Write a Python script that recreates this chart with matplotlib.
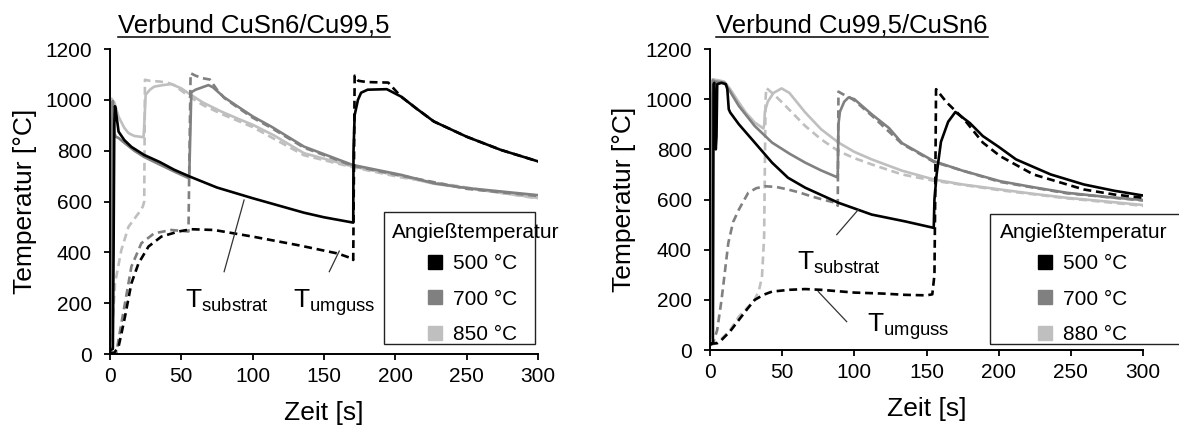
import matplotlib
matplotlib.use("Agg")
import matplotlib.pyplot as plt
from matplotlib.lines import Line2D
from matplotlib.patches import Rectangle

plt.rcParams['font.family'] = ['Liberation Sans', 'DejaVu Sans']

# ---- data, left panel: Verbund CuSn6/Cu99,5 ----
l_sub500_t = [0, 2, 2.5, 3, 3.5, 4, 6, 10, 15, 24, 35, 45, 56, 75, 100, 136, 150, 170.5, 170.7, 171.5, 173.8, 176, 180.6, 194, 204, 215, 227, 250, 274, 300]
l_sub500_T = [15, 20, 400, 900, 975, 960, 875, 842, 815, 783, 755, 725, 698, 655, 613, 556, 538, 517, 800, 940, 1000, 1028, 1040, 1042, 1013, 965, 915, 855, 803, 758]
l_umg500_t = [0, 3, 6, 8, 10.5, 13, 15, 20, 27, 36, 48, 57, 73, 100, 133, 160, 170, 170.5, 171.5, 174, 180, 195, 204, 215, 227, 250, 274, 300]
l_umg500_T = [5, 5, 29, 80, 147, 220, 278, 357, 423, 462, 482, 491, 488, 462, 427, 395, 375, 370, 1095, 1075, 1070, 1068, 1013, 965, 915, 855, 803, 758]

l_sub700_t = [0, 1, 1.5, 2, 3, 4, 6, 10.5, 17, 24, 35, 45, 55.5, 56, 57, 60, 65, 69, 72, 80, 89.5, 100, 113, 136, 170, 204, 227, 250, 300]
l_sub700_T = [0, 300, 900, 995, 870, 855, 850, 829, 800, 775, 745, 718, 691, 800, 1030, 1040, 1050, 1058, 1050, 1010, 974, 935, 895, 816, 744, 705, 672, 653, 625]
l_umg700_t = [0, 4.5, 7, 10.5, 15, 22, 31, 43, 55, 55.5, 56.5, 60, 65, 70, 75, 80, 89.5, 100, 113, 136, 170, 204, 250, 300]
l_umg700_T = [0, 5, 90, 200, 344, 436, 475, 488, 482, 700, 1105, 1095, 1085, 1080, 1040, 1008, 970, 930, 890, 812, 741, 702, 650, 622]

l_sub850_t = [0, 0.5, 1, 3, 6, 10, 13, 17, 23.5, 24, 25, 28, 31, 37, 43, 50, 55, 65, 78, 90, 100, 115, 136, 170, 204, 227, 260, 300]
l_sub850_T = [150, 700, 1005, 990, 934, 890, 869, 858, 853, 900, 1020, 1040, 1052, 1058, 1062, 1045, 1026, 990, 954, 925, 902, 860, 790, 738, 700, 670, 645, 614]
l_umg850_t = [0, 0.7, 3.5, 8, 13, 20, 23, 24, 24.5, 28, 35, 40, 45, 55, 65, 78, 100, 136, 170, 204, 300]
l_umg850_T = [0, 10, 278, 410, 501, 554, 580, 600, 1079, 1075, 1072, 1068, 1058, 1015, 980, 945, 893, 782, 735, 695, 612]

# ---- data, right panel: Verbund Cu99,5/CuSn6 ----
r_sub500_t = [0, 2, 2.5, 3, 4, 4.5, 5, 8, 11, 12, 13, 14, 20, 31, 43, 54, 66, 89, 112, 135, 155, 155.5, 157, 160, 165, 170, 180, 189, 200, 212, 236, 259, 280, 300]
r_sub500_T = [20, 30, 1060, 1065, 800, 850, 1060, 1065, 1060, 1040, 960, 947, 900, 827, 747, 687, 647, 587, 540, 513, 487, 600, 700, 830, 910, 949, 905, 853, 810, 760, 700, 660, 635, 616]
r_umg500_t = [0, 5, 8, 14, 20, 26, 31, 37, 43, 55, 66, 77, 100, 120, 135, 150, 154, 155.5, 156, 156.6, 164, 176, 189, 201, 224, 259, 280, 300]
r_umg500_T = [25, 27, 40, 75, 120, 165, 200, 220, 233, 240, 243, 240, 229, 225, 220, 218, 222, 300, 600, 1040, 987, 920, 827, 773, 700, 640, 620, 607]

r_sub700_t = [0, 1, 2, 4, 8, 10, 14, 20, 31, 43, 55, 66, 77, 88, 88.5, 89, 90, 93, 96, 100, 112, 124, 133, 155, 175, 201, 225, 247, 275, 300]
r_sub700_T = [50, 900, 1075, 1070, 1068, 1065, 1030, 973, 893, 827, 783, 747, 716, 689, 700, 900, 950, 990, 1007, 1000, 940, 885, 825, 753, 715, 673, 648, 627, 610, 598]
r_umg700_t = [0, 2, 5, 8, 12.7, 16, 20, 26.5, 32, 38, 46, 54, 62, 70, 78, 87, 88.5, 89, 92, 96, 100, 112, 133, 155, 201, 247, 300]
r_umg700_T = [20, 25, 80, 200, 427, 510, 560, 627, 645, 653, 650, 640, 628, 613, 600, 587, 575, 1030, 1020, 1010, 995, 935, 822, 750, 670, 625, 596]

r_sub880_t = [0, 1, 2, 3, 6, 10, 14, 20, 25, 31, 37, 37.6, 38, 40, 44, 49.6, 55, 66, 77, 89, 100, 112, 133, 155, 175, 201, 225, 247, 275, 300]
r_sub880_T = [950, 1060, 1080, 1078, 1075, 1070, 1040, 987, 945, 907, 883, 900, 950, 990, 1025, 1043, 1025, 947, 880, 827, 790, 760, 715, 680, 660, 640, 622, 607, 592, 578]
r_umg880_t = [0, 3, 8, 14, 20, 26, 31, 34, 36, 37.5, 38.5, 39, 44, 50, 66, 77, 89, 100, 112, 133, 155, 201, 247, 300]
r_umg880_T = [20, 25, 45, 80, 133, 170, 200, 240, 290, 450, 1000, 1045, 1020, 987, 893, 840, 793, 765, 740, 700, 675, 637, 605, 575]

titles = ['Verbund CuSn6/Cu99,5', 'Verbund Cu99,5/CuSn6']
legend_labels_left = ['500 °C', '700 °C', '850 °C']
legend_labels_right = ['500 °C', '700 °C', '880 °C']
colors = ['#000000', '#808080', '#bfbfbf']
x_ticks = [0, 50, 100, 150, 200, 250, 300]
y_ticks = [0, 200, 400, 600, 800, 1000, 1200]

fig = plt.figure(figsize=(11.79, 4.30), dpi=100)
axL = fig.add_axes([0.0933, 0.1767, 0.3630, 0.7093])
axR = fig.add_axes([0.6022, 0.1860, 0.3673, 0.7000])

def draw_panel(ax, curves):
    # curves: list of (t_sub, T_sub, t_umg, T_umg, color), light first so black ends on top
    for ts, Ts, tu, Tu, c in curves:
        ax.plot(tu, Tu, color=c, lw=1.9, ls=(0, (3, 1.8)))
        ax.plot(ts, Ts, color=c, lw=1.9)
    ax.set_xlim(0, 300)
    ax.set_ylim(0, 1200)
    ax.set_xticks(x_ticks)
    ax.set_yticks(y_ticks)
    for s in ['top', 'right']:
        ax.spines[s].set_visible(False)
    for s in ['left', 'bottom']:
        ax.spines[s].set_linewidth(1.4)
    ax.tick_params(axis='both', direction='out', length=4, width=1.3, labelsize=15)
    ax.tick_params(axis='y', pad=9)
    ax.tick_params(axis='x', pad=5)
    ax.set_xlabel('Zeit [s]', fontsize=19)
    ax.set_ylabel('Temperatur [°C]', fontsize=19)
    ax.xaxis.set_label_coords(0.5, -0.155)
    ax.yaxis.set_label_coords(-0.17, 0.5)
    ax.xaxis.label.set_va('top')

draw_panel(axL, [
    (l_sub850_t, l_sub850_T, l_umg850_t, l_umg850_T, colors[2]),
    (l_sub700_t, l_sub700_T, l_umg700_t, l_umg700_T, colors[1]),
    (l_sub500_t, l_sub500_T, l_umg500_t, l_umg500_T, colors[0]),
])
draw_panel(axR, [
    (r_sub880_t, r_sub880_T, r_umg880_t, r_umg880_T, colors[2]),
    (r_sub700_t, r_sub700_T, r_umg700_t, r_umg700_T, colors[1]),
    (r_sub500_t, r_sub500_T, r_umg500_t, r_umg500_T, colors[0]),
])

# annotations with leader lines
lead = dict(color='#333333', lw=0.9)
axL.plot([94, 80], [606, 324], **lead)
axL.plot([153.7, 160.7], [324, 405], **lead)
axL.text(52.5, 180, r'$\mathregular{T_{substrat}}$', fontsize=19, ha='left', va='baseline')
axL.text(128.5, 180, r'$\mathregular{T_{umguss}}$', fontsize=19, ha='left', va='baseline')
axR.plot([102.8, 87.8], [560, 460], **lead)
axR.plot([75, 94.7], [233, 113], **lead)
axR.text(60, 320, r'$\mathregular{T_{substrat}}$', fontsize=19, ha='left', va='baseline')
axR.text(108.5, 73, r'$\mathregular{T_{umguss}}$', fontsize=19, ha='left', va='baseline')

# legends: frame box, title, entries
def add_legend(ax, labels, box_x, box_y, box_w, box_h, title_x, title_y, anchor):
    ax.add_patch(Rectangle((box_x, box_y), box_w, box_h, transform=ax.transAxes,
                           fill=False, edgecolor='#222222', lw=1.0, clip_on=False))
    ax.text(title_x, title_y, 'Angießtemperatur', transform=ax.transAxes,
            fontsize=15, ha='left', va='center')
    handles = [Line2D([], [], marker='s', ls='none', markersize=9.5, color=c, markeredgecolor=c)
               for c in colors]
    ax.legend(handles, labels, loc='upper left', bbox_to_anchor=anchor, frameon=False,
              fontsize=15, borderpad=0, borderaxespad=0, handlelength=0.7,
              handletextpad=0.5, labelspacing=0.8)

add_legend(axL, legend_labels_left, 0.640, 0.033, 0.353, 0.433, 0.659, 0.40, (0.743, 0.328))
add_legend(axR, legend_labels_right, 0.647, 0.020, 0.45, 0.432, 0.670, 0.392, (0.7575, 0.319))

# underlined titles
title_centers = [254 / 1179, 852 / 1179]
renderer = fig.canvas.get_renderer()
for txt, cx in zip(titles, title_centers):
    t = fig.text(cx, 1 - 33 / 430, txt, fontsize=18.5, ha='center', va='baseline')
    bb = t.get_window_extent(renderer)
    y_ul = 1 - 37 / 430
    fig.add_artist(Line2D([bb.x0 / 1179, bb.x1 / 1179], [y_ul, y_ul], color='black', lw=1.1,
                          transform=fig.transFigure))

fig.savefig('out.png', dpi=100)
